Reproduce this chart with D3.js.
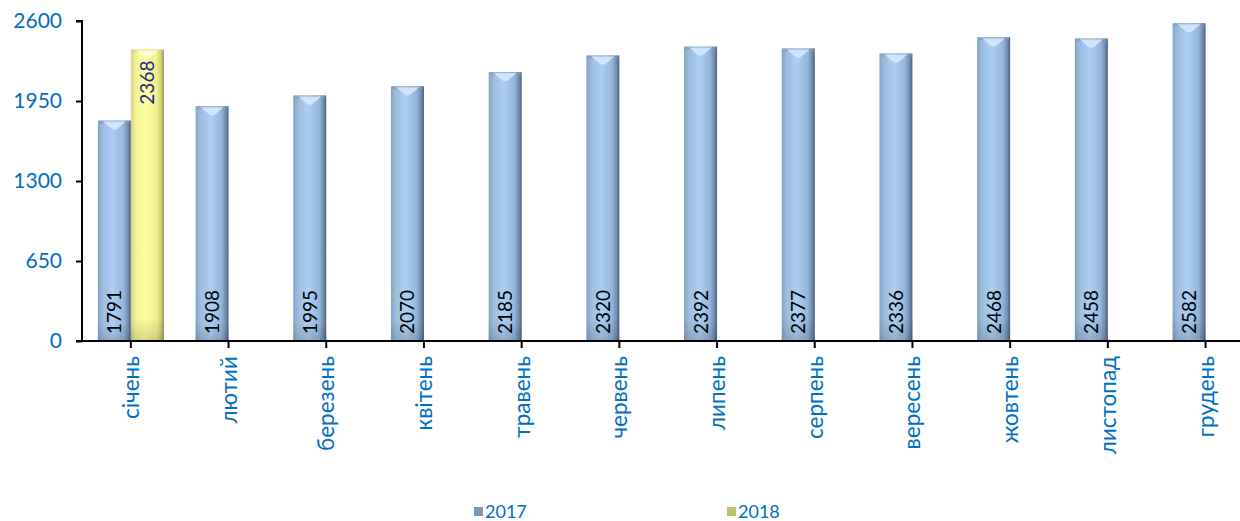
<!DOCTYPE html>
<html>
<head>
<meta charset="utf-8">
<script src="https://cdn.jsdelivr.net/npm/d3@7"></script>
<style>
body { margin: 0; background: #fff; }
text { font-family: Lato, "Open Sans", sans-serif; }
</style>
</head>
<body>
<div id="chart"></div>
<script>
var months = ["січень", "лютий", "березень", "квітень", "травень", "червень",
              "липень", "серпень", "вересень", "жовтень", "листопад", "грудень"];
var series = ["2017", "2018"];
var values2017 = [1791, 1908, 1995, 2070, 2185, 2320, 2392, 2377, 2336, 2468, 2458, 2582];
var values2018 = [2368];
var yTicks = [0, 650, 1300, 1950, 2600];

var width = 1240, height = 521;
var plotLeft = 82, plotTop = 21, plotBottom = 341;
var step = 97.7;

var svg = d3.select("#chart").append("svg")
    .attr("width", width).attr("height", height);

var x = d3.scaleBand().domain(months).range([plotLeft, plotLeft + step * 12]);
var xs = d3.scaleBand().domain(series).range([-33, 33]);
var y = d3.scaleLinear().domain([0, 2600]).range([plotBottom, plotTop]);

// gradients for the bevel look
var defs = svg.append("defs");
function grad(id, stops) {
    var g = defs.append("linearGradient").attr("id", id)
        .attr("x1", "0%").attr("x2", "100%").attr("y1", "0%").attr("y2", "0%");
    stops.forEach(function(s) {
        g.append("stop").attr("offset", s[0]).attr("stop-color", s[1]);
    });
}
grad("g2017", [["0%", "#8aa2bf"], ["15%", "#9dbde0"], ["45%", "#abcef2"], ["78%", "#95b6da"], ["92%", "#6f8caf"], ["100%", "#465f7d"]]);
grad("g2018", [["0%", "#d2d28e"], ["15%", "#f4f494"], ["45%", "#ffffa2"], ["78%", "#f0f08c"], ["92%", "#cfcf72"], ["100%", "#8f8f50"]]);
var vg = defs.append("linearGradient").attr("id", "shadeV")
    .attr("x1", "0%").attr("x2", "0%").attr("y1", "0%").attr("y2", "100%");
vg.append("stop").attr("offset", "0%").attr("stop-color", "#000").attr("stop-opacity", 0);
vg.append("stop").attr("offset", "92%").attr("stop-color", "#000").attr("stop-opacity", 0);
vg.append("stop").attr("offset", "100%").attr("stop-color", "#000").attr("stop-opacity", 0.15);

var colors = { "2017": "url(#g2017)", "2018": "url(#g2018)" };
var capColors = { "2017": "#d6e8fb", "2018": "#ffffd0" };
var capDark = { "2017": "#7e9aba", "2018": "#d4d488" };

function addBars(name, vals, labelColor, labelAtTop) {
    var g = svg.append("g");
    var bars = g.selectAll("g").data(vals).enter().append("g");
    function bx(i) { return x(months[i]) + x.bandwidth() / 2 + xs(name); }
    bars.append("rect")
        .attr("x", function(d, i) { return bx(i); })
        .attr("y", function(d) { return y(d); })
        .attr("width", xs.bandwidth())
        .attr("height", function(d) { return plotBottom - y(d); })
        .attr("fill", colors[name]);
    bars.append("rect")
        .attr("x", function(d, i) { return bx(i); })
        .attr("y", function(d) { return y(d); })
        .attr("width", xs.bandwidth())
        .attr("height", function(d) { return plotBottom - y(d); })
        .attr("fill", "url(#shadeV)");
    // top bevel
    bars.append("rect")
        .attr("x", function(d, i) { return bx(i) + 1; })
        .attr("y", function(d) { return y(d); })
        .attr("width", xs.bandwidth() - 2)
        .attr("height", 3)
        .attr("fill", capDark[name]).attr("opacity", 0.6);
    bars.append("path")
        .attr("d", function(d, i) {
            var x0 = bx(i), w = xs.bandwidth(), y0 = y(d) + 1;
            return "M" + (x0 + 5) + "," + y0 + "L" + (x0 + w - 5) + "," + y0 +
                   "L" + (x0 + w / 2 + 2) + "," + (y0 + 8) + "L" + (x0 + w / 2 - 2) + "," + (y0 + 8) + "Z";
        })
        .attr("fill", capColors[name]).attr("opacity", 0.9);
    bars.append("text")
        .attr("transform", function(d, i) {
            var cx = bx(i) + xs.bandwidth() / 2 + 7;
            var cy = labelAtTop ? y(d) + 11 : plotBottom - 7;
            return "translate(" + cx + "," + cy + ") rotate(-90)";
        })
        .attr("text-anchor", labelAtTop ? "end" : "start")
        .attr("font-size", 19)
        .attr("fill", labelColor)
        .text(function(d) { return d; });
}
addBars("2017", values2017, "#000", false);
addBars("2018", values2018, "#26268f", true);

// y axis
var yAxis = svg.append("g").attr("transform", "translate(" + plotLeft + ",0)")
    .call(d3.axisLeft(y).tickValues(yTicks).tickFormat(d3.format("d")).tickSize(6).tickPadding(14));
yAxis.select(".domain").attr("stroke", "#000").attr("stroke-width", 2)
    .attr("d", "M-6," + plotTop + "H0V" + plotBottom + "H-6");
yAxis.selectAll(".tick line").attr("stroke", "#000").attr("stroke-width", 2);
yAxis.selectAll(".tick text").attr("fill", "#0070c0").attr("font-size", 21)
    .style("font-family", "Lato, 'Open Sans', sans-serif");

// x axis
var xAxis = svg.append("g").attr("transform", "translate(0," + plotBottom + ")")
    .call(d3.axisBottom(x).tickSize(7).tickFormat(""));
xAxis.select(".domain").attr("stroke", "#000").attr("stroke-width", 2)
    .attr("d", "M" + plotLeft + ",0H" + width);
xAxis.selectAll(".tick line").attr("stroke", "#000").attr("stroke-width", 2);

svg.append("g").selectAll("text").data(months).enter().append("text")
    .attr("transform", function(d) {
        return "translate(" + (x(d) + x.bandwidth() / 2 + 8) + ",356) rotate(-90)";
    })
    .attr("text-anchor", "end")
    .attr("font-size", 22.5)
    .attr("fill", "#0070c0")
    .text(function(d) { return d; });

// legend
var legendX = [474, 727];
var legend = svg.append("g").selectAll("g").data(series).enter().append("g")
    .attr("transform", function(d, i) { return "translate(" + legendX[i] + ",507)"; });
legend.append("rect").attr("width", 9).attr("height", 9)
    .attr("fill", function(d) { return d === "2017" ? "#7f97b6" : "#c0c070"; });
legend.append("text").attr("x", 11).attr("y", 11)
    .attr("font-size", 18).attr("fill", "#0070c0")
    .text(function(d) { return d; });
</script>
</body>
</html>
